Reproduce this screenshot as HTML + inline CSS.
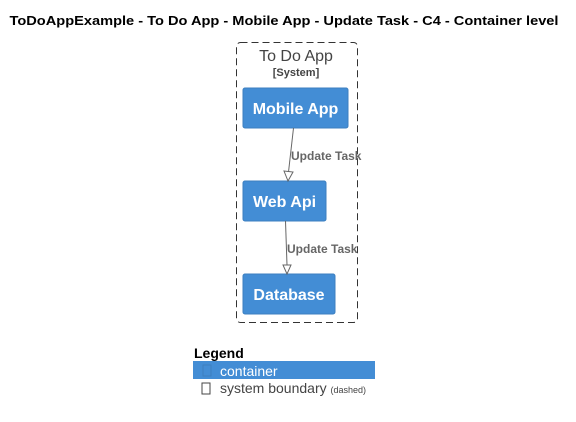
<!DOCTYPE html>
<html><head><meta charset="utf-8"><style>
html,body{margin:0;padding:0;background:#fff;}
svg{display:block;font-family:"Liberation Sans",Arial,sans-serif;}
</style></head><body>
<svg width="576" height="422" viewBox="0 0 576 422" xmlns="http://www.w3.org/2000/svg">
<rect width="576" height="422" fill="#fff"/>
<text x="284" y="25" text-anchor="middle" font-size="13" font-weight="bold" fill="#000" textLength="549" lengthAdjust="spacingAndGlyphs">ToDoAppExample - To Do App - Mobile App - Update Task - C4 - Container level</text>
<rect x="236.5" y="42.5" width="121" height="280" rx="4" fill="none" stroke="#333" stroke-width="1" stroke-dasharray="7,4"/>
<text x="296" y="61" text-anchor="middle" font-size="16" fill="#444">To Do App</text>
<text x="296" y="76" text-anchor="middle" font-size="11" font-weight="bold" fill="#444">[System]</text>
<rect x="243" y="88" width="105" height="40" rx="2" fill="#438DD5" stroke="#3C7FC0"/>
<text x="295.5" y="114" text-anchor="middle" font-size="16" font-weight="bold" fill="#fff">Mobile App</text>
<rect x="243" y="181" width="83" height="40" rx="2" fill="#438DD5" stroke="#3C7FC0"/>
<text x="284.5" y="207" text-anchor="middle" font-size="16" font-weight="bold" fill="#fff">Web Api</text>
<rect x="243" y="274" width="92" height="40" rx="2" fill="#438DD5" stroke="#3C7FC0"/>
<text x="289" y="300" text-anchor="middle" font-size="16" font-weight="bold" fill="#fff">Database</text>
<line x1="293.5" y1="128" x2="288.5" y2="172" stroke="#666" stroke-width="1"/>
<polygon points="284,171 293,172 288,181" fill="#fff" stroke="#666"/>
<text x="291" y="160" font-size="12" font-weight="bold" fill="#666">Update Task</text>
<line x1="285.5" y1="221" x2="287" y2="265" stroke="#666" stroke-width="1"/>
<polygon points="283,265 291,265 287,274" fill="#fff" stroke="#666"/>
<text x="287" y="253" font-size="12" font-weight="bold" fill="#666">Update Task</text>
<text x="194" y="358" font-size="14" font-weight="bold" fill="#000">Legend</text>
<rect x="193" y="361" width="182" height="18" fill="#438DD5"/>
<rect x="203" y="365" width="8" height="11" fill="none" stroke="#3C7FC0" stroke-width="1"/>
<text x="220" y="376" font-size="14" fill="#fff">container</text>
<rect x="202" y="383" width="8" height="11" fill="none" stroke="#444" stroke-width="1"/>
<text x="220" y="393" font-size="14" fill="#444">system boundary <tspan font-size="9">(dashed)</tspan></text>
</svg>
</body></html>
